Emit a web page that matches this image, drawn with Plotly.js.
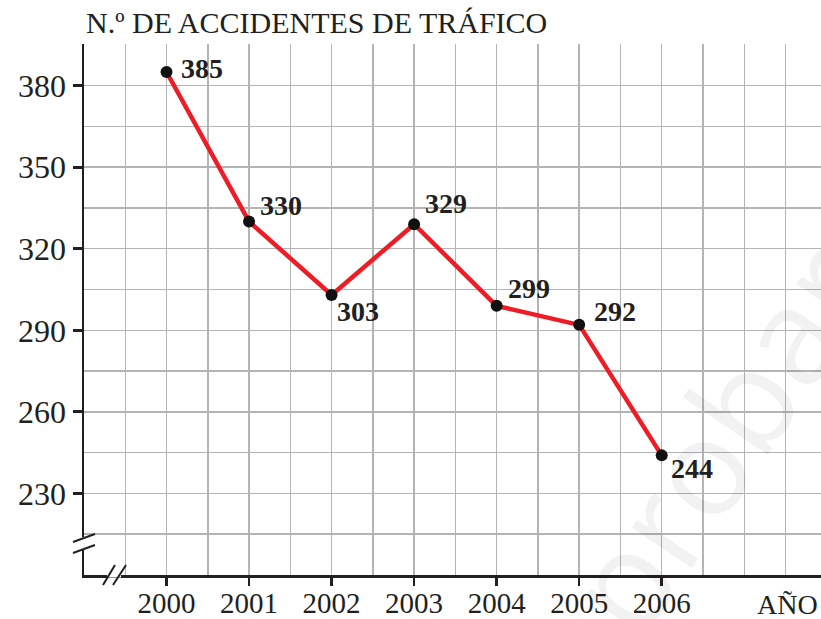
<!DOCTYPE html>
<html>
<head>
<meta charset="utf-8">
<script src="https://cdn.plot.ly/plotly-3.0.1.min.js"></script>
<style>
  html, body { margin: 0; padding: 0; background: #fff; }
  #chart { width: 821px; height: 619px; }
</style>
</head>
<body>
<div id="chart"></div>
<script>
// datos
const years = [2000, 2001, 2002, 2003, 2004, 2005, 2006];
const accidents = [385, 330, 303, 329, 299, 292, 244];
const yTicks = [230, 260, 290, 320, 350, 380];
// posición de cada etiqueta respecto a su punto (px)
const labelShift = [
    [12, 4], [9, 16], [3, -17], [9, 21], [9, 17], [13, 13], [7, -13]
];

const serif = '"Liberation Serif", "DejaVu Serif", serif';
const gridColor = '#b4b4b6';
const axisColor = '#231f20';

const trace = {
    x: years,
    y: accidents,
    mode: 'lines+markers',
    type: 'scatter',
    line: { color: '#ee1c25', width: 4.5 },
    marker: { color: '#111', size: 12 },
    hoverinfo: 'skip',
    cliponaxis: false
};

const labels = years.map((yr, i) => ({
    x: yr,
    y: accidents[i],
    xref: 'x',
    yref: 'y',
    text: '<b>' + accidents[i] + '</b>',
    showarrow: false,
    xanchor: 'left',
    yanchor: 'middle',
    xshift: labelShift[i][0],
    yshift: labelShift[i][1],
    font: { family: serif, size: 28, color: '#231f20' }
}));

const extra = [
    {
        text: 'N.º DE ACCIDENTES DE TRÁFICO',
        xref: 'paper', yref: 'paper',
        x: 0, y: 1, xanchor: 'left', yanchor: 'bottom',
        xshift: 0, yshift: 3,
        showarrow: false,
        font: { family: serif, size: 30, color: '#231f20' }
    },
    {
        text: 'AÑO',
        xref: 'paper', yref: 'paper',
        x: 1, y: 0, xanchor: 'right', yanchor: 'top',
        xshift: -1, yshift: -12,
        showarrow: false,
        font: { family: serif, size: 28, color: '#231f20' }
    },
    {
        text: 'aprobar',
        xref: 'paper', yref: 'paper',
        x: 0.83, y: 0.2,
        xanchor: 'center', yanchor: 'middle',
        showarrow: false,
        textangle: -56,
        font: { family: 'Open Sans, sans-serif', size: 135, color: 'rgba(0,0,0,0.05)' }
    }
];

// cortes de los ejes (//)
function yMark(y0, y1, x0, x1, color, width) {
    return {
        type: 'line', xref: 'paper', yref: 'y',
        xsizemode: 'pixel', ysizemode: 'pixel',
        xanchor: 0, yanchor: 200,
        x0: x0, y0: y0, x1: x1, y1: y1,
        line: { color: color, width: width }
    };
}
function xMark(x0, x1, y0, y1, color, width) {
    return {
        type: 'line', xref: 'x', yref: 'paper',
        xsizemode: 'pixel', ysizemode: 'pixel',
        xanchor: 1999, yanchor: 0,
        x0: x0, y0: y0, x1: x1, y1: y1,
        line: { color: color, width: width }
    };
}
const shapes = [
    yMark(25, 38, 0, 0, '#fff', 5),
    yMark(33, 41, -11, 11, axisColor, 2),
    yMark(22, 30, -11, 11, axisColor, 2),
    xMark(23, 37, 0, 0, '#fff', 5),
    xMark(19, 31, -10, 10, axisColor, 2),
    xMark(29, 42, -10, 10, axisColor, 2)
];

const layout = {
    width: 821,
    height: 619,
    margin: { l: 84, r: 0, t: 44, b: 44 },
    paper_bgcolor: '#fff',
    plot_bgcolor: '#fff',
    showlegend: false,
    xaxis: {
        range: [1999, 2007.93],
        tickvals: years,
        ticks: 'outside',
        ticklen: 8,
        tickwidth: 2.5,
        tickcolor: axisColor,
        ticklabelstandoff: -7,
        showgrid: true,
        gridcolor: gridColor,
        gridwidth: 1.5,
        minor: { dtick: 0.5, tick0: 1999, showgrid: true, gridcolor: gridColor, gridwidth: 1.5, ticks: '' },
        showline: true,
        linecolor: axisColor,
        linewidth: 2.5,
        zeroline: false,
        tickfont: { family: serif, size: 29, color: '#231f20' },
        fixedrange: true
    },
    yaxis: {
        range: [200, 395.3],
        tickvals: yTicks,
        ticks: 'outside',
        ticklen: 9,
        tickwidth: 3,
        tickcolor: axisColor,
        showgrid: true,
        gridcolor: gridColor,
        gridwidth: 1.5,
        minor: { dtick: 15, tick0: 200, showgrid: true, gridcolor: gridColor, gridwidth: 1.5, ticks: '' },
        showline: true,
        linecolor: axisColor,
        linewidth: 2.5,
        zeroline: false,
        tickfont: { family: serif, size: 32, color: '#231f20' },
        fixedrange: true
    },
    annotations: labels.concat(extra),
    shapes: shapes
};

Plotly.newPlot('chart', [trace], layout, { displayModeBar: false, staticPlot: true });
</script>
</body>
</html>
